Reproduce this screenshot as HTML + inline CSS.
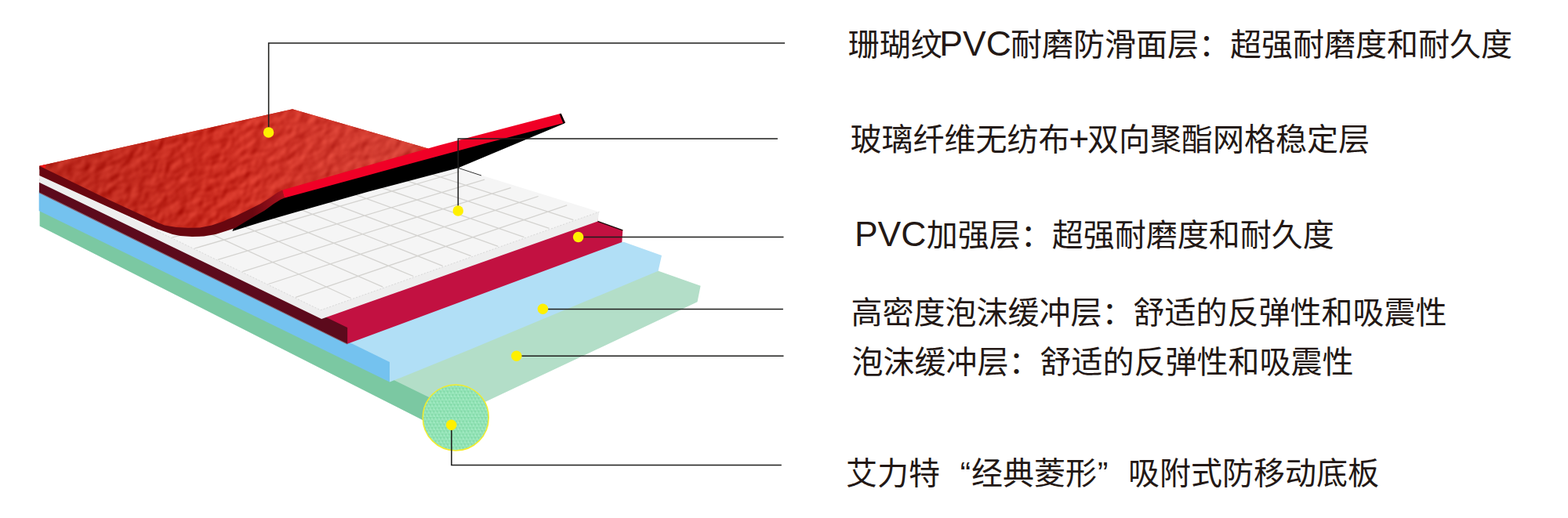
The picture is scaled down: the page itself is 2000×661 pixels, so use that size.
<!DOCTYPE html>
<html lang="zh"><head><meta charset="utf-8"><title>PVC floor layers</title>
<style>
html,body{margin:0;padding:0;background:#fff}
body{width:2000px;height:661px;overflow:hidden;position:relative;font-family:"Liberation Sans",sans-serif}
svg{position:absolute;left:0;top:0;display:block}
.lbl{position:absolute;left:1082px;font-size:40px;line-height:40px;white-space:nowrap;color:transparent;margin:0}
</style></head><body>
<svg width="2000" height="661" viewBox="0 0 2000 661">
<defs>
<filter id="tex" x="0" y="0" width="100%" height="100%" color-interpolation-filters="sRGB">
<feTurbulence type="fractalNoise" baseFrequency="0.075 0.095" numOctaves="2" seed="23" result="n"/>
<feGaussianBlur in="n" stdDeviation="1.1" result="nb"/>
<feColorMatrix in="nb" type="matrix" values="0 0 0 0 0  0 0 0 0 0  0 0 0 0 0  1 0 0 0 0" result="a"/>
<feDiffuseLighting in="a" surfaceScale="1.15" diffuseConstant="1.0" lighting-color="#ffffff" result="l"><feDistantLight azimuth="250" elevation="50"/></feDiffuseLighting>
<feColorMatrix in="l" type="matrix" values="0.80 0 0 0 0.197  0.75 0 0 0 -0.400  0.65 0 0 0 -0.372  0 0 0 0 1" result="c"/>
<feGaussianBlur in="c" stdDeviation="0.8"/>
</filter>
<linearGradient id="gband" gradientUnits="userSpaceOnUse" x1="322" y1="0" x2="362" y2="0"><stop offset="0" stop-color="#690710"/><stop offset="1" stop-color="#a8121e"/></linearGradient>
<clipPath id="cr"><polygon points="50.3,211.8 373.0,139.2 546.0,189.6 548.0,194.0 363.0,252.0 360.4,246.4 353.6,249.7 345.1,256.0 332.4,264.0 311.2,274.6 300.0,280.0 290.0,284.1 285.0,286.5 270.0,291.5 255.0,294.5 240.0,294.8 225.0,294.0 210.0,291.5 200.0,287.5 180.0,278.0 140.0,259.5 50.3,216.0"/></clipPath>
<linearGradient id="gred" gradientUnits="userSpaceOnUse" x1="60" y1="230" x2="520" y2="170"><stop offset="0" stop-color="#000" stop-opacity="0.10"/><stop offset="0.45" stop-color="#000" stop-opacity="0.02"/><stop offset="0.55" stop-color="#fff" stop-opacity="0.02"/><stop offset="1" stop-color="#fff" stop-opacity="0.09"/></linearGradient>
<pattern id="dia" width="4.4" height="8.4" patternUnits="userSpaceOnUse" patternTransform="translate(540 490)">
<rect width="4.4" height="8.4" fill="#84dbaa"/>
<path d="M0 4.2L2.2 0L4.4 4.2Z" fill="#a6edc7"/>
<path d="M0 4.2L2.2 0L2.2 4.2Z" fill="#95e4b8"/>
<path d="M-2.2 8.4L0 4.2L2.2 8.4Z" fill="#a6edc7"/>
<path d="M-2.2 8.4L0 4.2L0 8.4Z" fill="#95e4b8"/>
<path d="M2.2 8.4L4.4 4.2L6.6 8.4Z" fill="#a6edc7"/>
<path d="M2.2 8.4L4.4 4.2L4.4 8.4Z" fill="#95e4b8"/>
</pattern>
</defs>
<rect width="2000" height="661" fill="#fff"/>

<!-- green layer -->
<polygon points="480.0,468.0 832.0,338.0 839.8,345.8 893.6,364.7 889.5,385.3 553.8,543.5 540.0,520.0" fill="#b3dec8"/>
<polygon points="50.6,264.0 553.8,510.2 553.8,543.5 50.6,288.4" fill="#7bc8a2"/>
<!-- blue layer -->
<polygon points="430.0,425.0 788.0,298.0 793.3,309.0 796.3,309.0 844.0,326.0 839.6,345.8 600.8,445.4 497.0,487.6 490.0,470.0" fill="#b1dff6"/>
<polygon points="49.7,243.0 497.0,462.0 497.0,487.6 49.7,269.0" fill="#74c2ef"/>
<!-- crimson layer -->
<polygon points="400.0,396.0 762.3,272.0 762.3,282.4 794.3,293.8 793.3,309.0 443.1,438.7 436.0,420.0" fill="#c21141"/>
<polygon points="50.0,228.0 443.1,418.0 443.1,438.7 50.0,245.4" fill="#5c0a1c"/>
<polyline points="50.0,245.8 443.1,439.0" stroke="#8e3a3a" stroke-width="1.2" fill="none" opacity="0.7"/>
<polyline points="762.3,282.4 794.3,293.8" stroke="#1a0a0a" stroke-width="1.4" fill="none"/>
<!-- white layer -->
<polygon points="50.4,219.0 408.9,390.8 410.1,407.1 50.0,232.8" fill="#eeeeee"/>
<polygon points="404.0,392.0 758.0,270.5 764.3,270.3 762.3,282.4 410.1,407.1" fill="#eeeeee"/>
<polygon points="50.0,222.0 408.9,395.8 764.3,270.3 373.7,149.2" fill="#f5f5f5"/>
<path d="M74.0 232.8L393.2 158.8M95.7 243.3L417.7 166.4M118.3 254.2L443.1 174.4M141.9 265.6L469.5 182.6M166.7 277.6L496.9 191.2M192.5 290.1L525.4 200.1M219.6 303.2L555.1 209.4M248.1 317.0L585.9 219.0M277.9 331.4L618.1 229.1M309.3 346.6L651.6 239.6M342.4 362.5L686.6 250.5M377.2 379.4L723.2 261.9M90.9 216.5L447.6 380.5M126.9 208.4L488.3 366.2M161.7 200.5L527.3 352.5M195.5 192.8L564.7 339.3M228.3 185.4L600.7 326.6M260.2 178.2L635.2 314.4M291.1 171.2L668.5 302.7M321.1 164.4L700.5 291.4M350.3 157.8L731.4 280.6" stroke="#d4d3d0" stroke-width="1.3" fill="none"/>
<polyline points="200.0,294.6 408.9,395.8 764.3,270.3" stroke="#d8d8d8" stroke-width="1" stroke-dasharray="2 2" fill="none"/>
<polyline points="584.5,214.3 614.0,224.0" stroke="#333" stroke-width="1" fill="none"/>
<!-- flap -->
<polygon points="363.1,247.6 470.0,218.4 620.0,177.7 718.2,152.0 720.9,156.6 718.6,158.0 584.5,214.2 470.0,244.5 410.0,261.5 374.7,271.6 332.4,283.8 296.4,295.0 300.0,286.0 311.2,279.0 325.0,270.8 337.7,263.4 349.3,255.0 357.8,249.7" fill="#000"/>
<!-- red top -->
<g clip-path="url(#cr)"><rect x="40" y="130" width="520" height="180" fill="#d03024"/><g transform="rotate(-35 300 215)"><rect x="-50" y="-135" width="700" height="700" filter="url(#tex)"/></g><rect x="40" y="130" width="520" height="180" fill="url(#gred)"/></g>
<polygon points="50.3,211.8 58.5,210 57.5,215.3" fill="#f51515"/>
<polygon points="532,189.2 546,189.6 541,192.5" fill="#f02020"/>
<polygon points="50.3,211.8 140.0,255.5 180.0,274.0 200.0,283.5 210.0,287.5 225.0,290.0 240.0,290.8 255.0,290.5 270.0,287.5 285.0,282.5 290.0,280.1 300.0,276.0 311.2,270.6 332.4,260.0 345.1,252.0 353.6,245.7 360.4,242.4 363.1,252.6 357.8,254.7 349.3,260.0 337.7,268.4 325.0,275.8 311.2,284.0 300.0,291.0 290.0,294.2 275.0,299.0 260.0,301.5 245.0,302.0 230.0,301.0 220.0,299.0 200.0,292.0 180.0,283.0 140.0,265.0 50.3,224.0" fill="url(#gband)"/>
<polygon points="360.4,242.4 470.0,211.0 560.0,185.4 620.0,169.8 715.6,144.8 720.9,156.6 620.0,182.7 470.0,223.4 363.1,252.6" fill="#f00026"/>
<polygon points="715.6,144.8 720.9,156.6 718.6,158.0 713.6,145.6" fill="#000"/>
<!-- circle -->
<circle cx="581.3" cy="532.9" r="42" fill="url(#dia)" stroke="#f2ec2c" stroke-width="1.5"/>

<!-- leader lines -->
<g stroke="#1e1e1c" stroke-width="1.55" fill="none" stroke-linejoin="miter">
<polyline points="342.65,169 342.65,55 1001.1,55"/>
<polyline points="584.35,268.5 584.35,177.05 991.9,177.05"/>
<polyline points="737.4,302.5 999.5,302.5"/>
<polyline points="692.4,394.4 998.9,394.4"/>
<polyline points="658.6,454.2 999.5,454.2"/>
<polyline points="575.9,542 575.9,593.4 996.8,593.4"/>
</g>
<g fill="#fff000">
<circle cx="342.6" cy="169.1" r="6.75"/>
<circle cx="584.3" cy="269" r="6.75"/>
<circle cx="737.6" cy="302.6" r="6.75"/>
<circle cx="692.4" cy="394.2" r="6.75"/>
<circle cx="658.8" cy="454.3" r="6.75"/>
<circle cx="575.7" cy="542.2" r="6.75"/>
</g>
<g fill="#231815" font-family="&quot;Liberation Sans&quot;, &quot;Noto Sans CJK SC&quot;, sans-serif" font-size="40">
<text x="1081.68" y="71">珊瑚纹</text>
<text x="1198.35" y="70.5" font-size="44.5">PVC</text>
<text x="1289" y="71">耐磨防滑面层：超强耐磨度和耐久度</text>
<text x="1084.4" y="192.4">玻璃纤维无纺布</text>
<text x="1363.33" y="191.9" font-size="44.5">+</text>
<text x="1387.02" y="192.4">双向聚酯网格稳定层</text>
<text x="1089.95" y="313.5" font-size="44.5">PVC</text>
<text x="1181.8" y="314">加强层：超强耐磨度和耐久度</text>
<text x="1085.6" y="413">高密度泡沫缓冲层：舒适的反弹性和吸震性</text>
<text x="1086.4" y="475.6">泡沫缓冲层：舒适的反弹性和吸震性</text>
<text x="1079.08" y="618">艾力特</text>
<text x="1238" y="618" text-anchor="end">“</text>
<text x="1239.08" y="618">经典菱形</text>
<text x="1400" y="618">”</text>
<text x="1439.08" y="618">吸附式防移动底板</text>
</g>
</svg>
<p class="lbl" style="top:36px;left:1083px">珊瑚纹PVC耐磨防滑面层：超强耐磨度和耐久度</p>
<p class="lbl" style="top:157px;left:1086px">玻璃纤维无纺布+双向聚酯网格稳定层</p>
<p class="lbl" style="top:279px;left:1094px">PVC加强层：超强耐磨度和耐久度</p>
<p class="lbl" style="top:378px;left:1088px">高密度泡沫缓冲层：舒适的反弹性和吸震性</p>
<p class="lbl" style="top:441px;left:1088px">泡沫缓冲层：舒适的反弹性和吸震性</p>
<p class="lbl" style="top:583px;left:1081px">艾力特“经典菱形”吸附式防移动底板</p>
</body></html>
